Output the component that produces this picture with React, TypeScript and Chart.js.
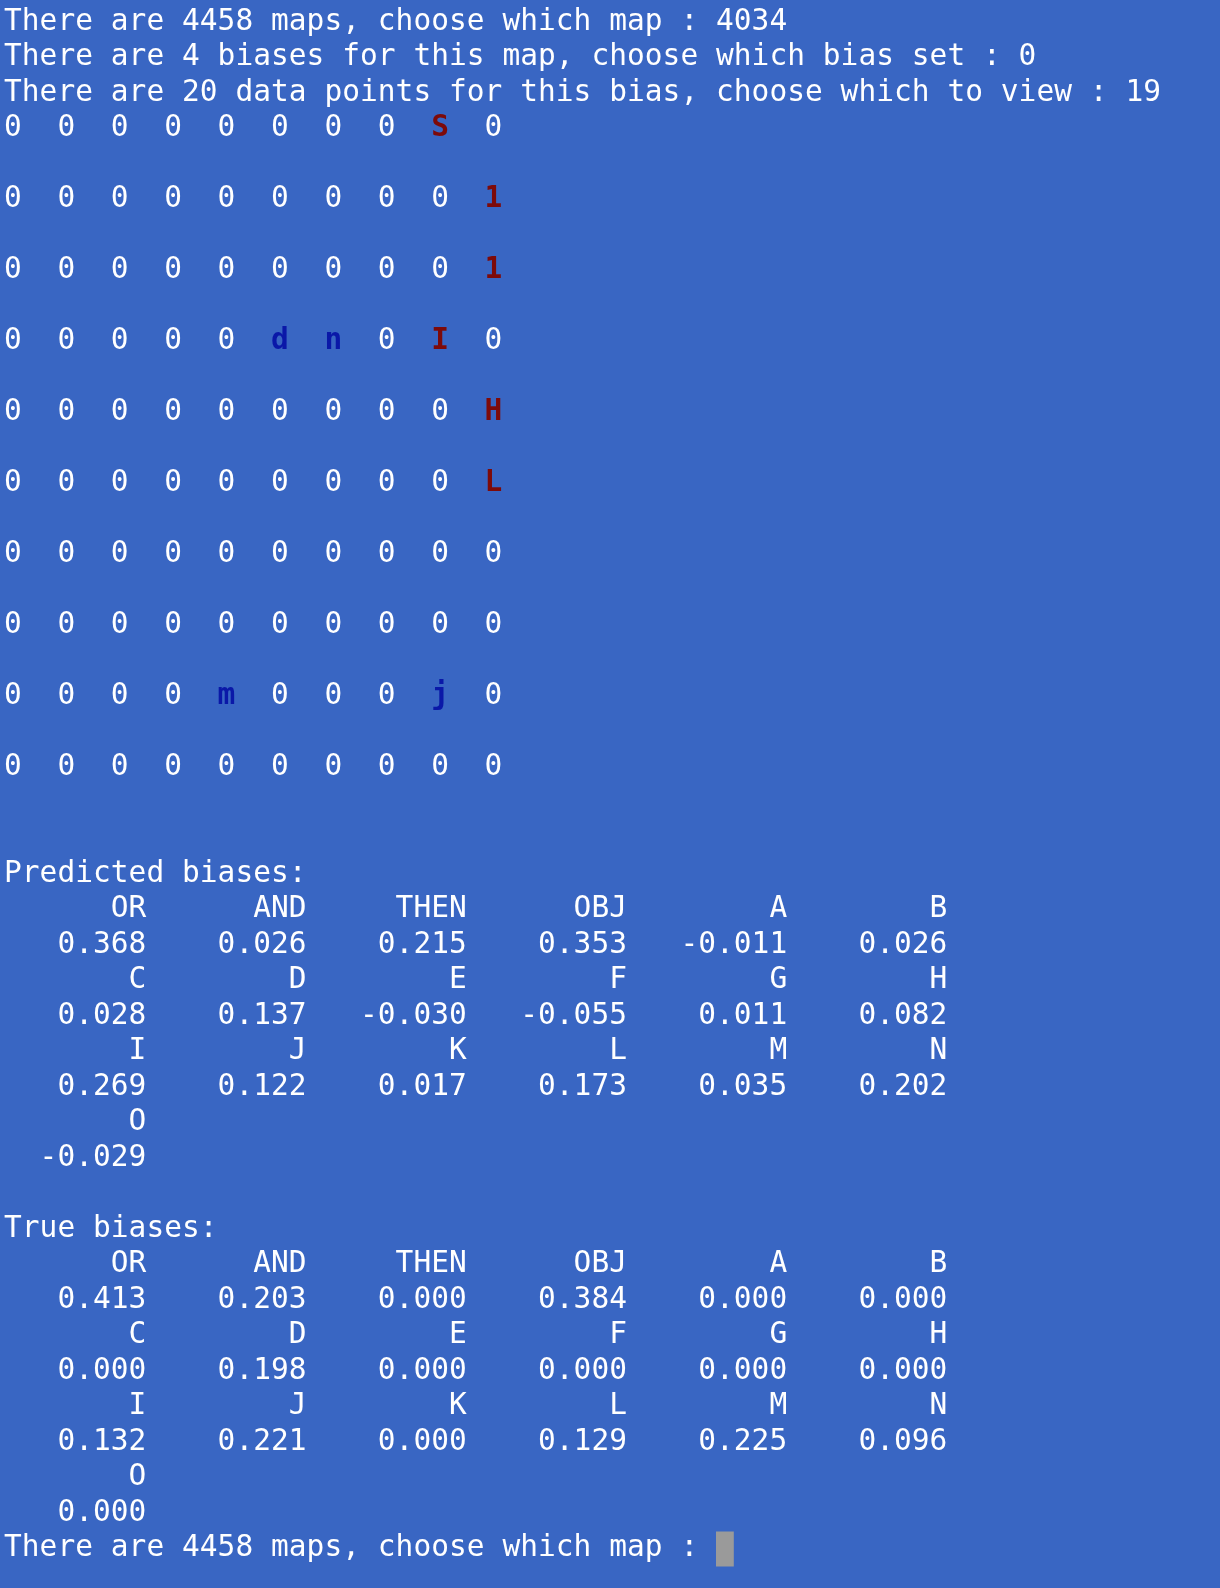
import { useEffect, useRef } from 'react';
import Chart from 'chart.js/auto';

// terminal text as data
const promptLines = [
  'There are 4458 maps, choose which map : 4034',
  'There are 4 biases for this map, choose which bias set : 0',
  'There are 20 data points for this bias, choose which to view : 19',
];
const mapRows = [
  '00000000S0',
  '0000000001',
  '0000000001',
  '00000dn0I0',
  '000000000H',
  '000000000L',
  '0000000000',
  '0000000000',
  '0000m000j0',
  '0000000000',
];
const redCells = ['S', '1', 'I', 'H', 'L'];
const blueCells = ['d', 'n', 'm', 'j'];
const biasLabels = ['OR', 'AND', 'THEN', 'OBJ', 'A', 'B', 'C', 'D', 'E', 'F', 'G', 'H', 'I', 'J', 'K', 'L', 'M', 'N', 'O'];
const predictedBiases = [0.368, 0.026, 0.215, 0.353, -0.011, 0.026, 0.028, 0.137, -0.03, -0.055, 0.011, 0.082, 0.269, 0.122, 0.017, 0.173, 0.035, 0.202, -0.029];
const trueBiases = [0.413, 0.203, 0.0, 0.384, 0.0, 0.0, 0.0, 0.198, 0.0, 0.0, 0.0, 0.0, 0.132, 0.221, 0.0, 0.129, 0.225, 0.096, 0.0];
const finalPrompt = 'There are 4458 maps, choose which map : ';

const CHAR_W = 17.8;
const LINE_H = 35.5;
const X0 = 4;
const Y0 = 22;

type Item = { x: number; y: number; text: string; color: string; bold?: boolean };

function buildItems(): Item[] {
  const items: Item[] = [];
  promptLines.forEach((t, i) => items.push({ x: 0, y: i, text: t, color: '#ffffff' }));
  mapRows.forEach((row, r) => {
    row.split('').forEach((ch, c) => {
      let color = '#ffffff';
      let bold = false;
      if (ch !== '0' && redCells.includes(ch)) { color = '#7d0a0a'; bold = true; }
      if (blueCells.includes(ch)) { color = '#0a18a8'; bold = true; }
      items.push({ x: c * 3, y: 3 + r * 2, text: ch, color, bold });
    });
  });
  const table = (title: string, start: number, vals: number[]) => {
    items.push({ x: 0, y: start, text: title, color: '#ffffff' });
    for (let i = 0; i < biasLabels.length; i++) {
      const row = Math.floor(i / 6);
      const end = 8 + (i % 6) * 9;
      const lab = biasLabels[i];
      const v = vals[i].toFixed(3);
      items.push({ x: end - lab.length, y: start + 1 + row * 2, text: lab, color: '#ffffff' });
      items.push({ x: end - v.length, y: start + 2 + row * 2, text: v, color: '#ffffff' });
    }
  };
  table('Predicted biases:', 24, predictedBiases);
  table('True biases:', 34, trueBiases);
  items.push({ x: 0, y: 43, text: finalPrompt, color: '#ffffff' });
  return items;
}

export default function App() {
  const canvasRef = useRef<HTMLCanvasElement>(null);
  const chartRef = useRef<Chart | null>(null);

  useEffect(() => {
    document.body.style.margin = '0';
    if (!canvasRef.current) return;
    if (chartRef.current) chartRef.current.destroy();
    const items = buildItems();

    const terminalText = {
      id: 'terminalText',
      beforeDraw(chart: Chart) {
        const { ctx } = chart;
        ctx.save();
        ctx.fillStyle = '#3966c3';
        ctx.fillRect(0, 0, chart.width, chart.height);
        ctx.restore();
      },
      afterDatasetsDraw(chart: Chart) {
        const { ctx } = chart;
        const meta = chart.getDatasetMeta(0);
        ctx.save();
        ctx.textBaseline = 'middle';
        ctx.textAlign = 'left';
        meta.data.forEach((pt: any, i: number) => {
          const it = items[i];
          ctx.font = `${it.bold ? 'bold ' : ''}29.5px "DejaVu Sans Mono", monospace`;
          ctx.fillStyle = it.color;
          for (let k = 0; k < it.text.length; k++) {
            ctx.fillText(it.text[k], pt.x + k * CHAR_W, pt.y);
          }
        });
        // cursor
        const xs = chart.scales.x;
        const ys = chart.scales.y;
        ctx.fillStyle = '#9a9a9a';
        const cx = xs.getPixelForValue(finalPrompt.length);
        const cy = ys.getPixelForValue(43);
        ctx.fillRect(cx, cy - 17, CHAR_W, 35);
        ctx.restore();
      },
    };

    chartRef.current = new Chart(canvasRef.current, {
      type: 'scatter',
      data: {
        datasets: [{
          data: items.map((it) => ({ x: it.x, y: it.y })),
          pointRadius: 0,
          pointHoverRadius: 0,
        }],
      },
      options: {
        animation: false,
        responsive: false,
        maintainAspectRatio: false,
        layout: { padding: 0 },
        plugins: { legend: { display: false }, tooltip: { enabled: false } },
        events: [],
        scales: {
          x: { type: 'linear', display: false, min: -X0 / CHAR_W, max: (1220 - X0) / CHAR_W },
          y: { type: 'linear', display: false, reverse: true, min: -Y0 / LINE_H, max: (1588 - Y0) / LINE_H },
        },
      },
      plugins: [terminalText as any],
    });

    return () => {
      if (chartRef.current) chartRef.current.destroy();
    };
  }, []);

  return <canvas ref={canvasRef} width={1220} height={1588} style={{ display: 'block', width: 1220, height: 1588 }} />;
}
